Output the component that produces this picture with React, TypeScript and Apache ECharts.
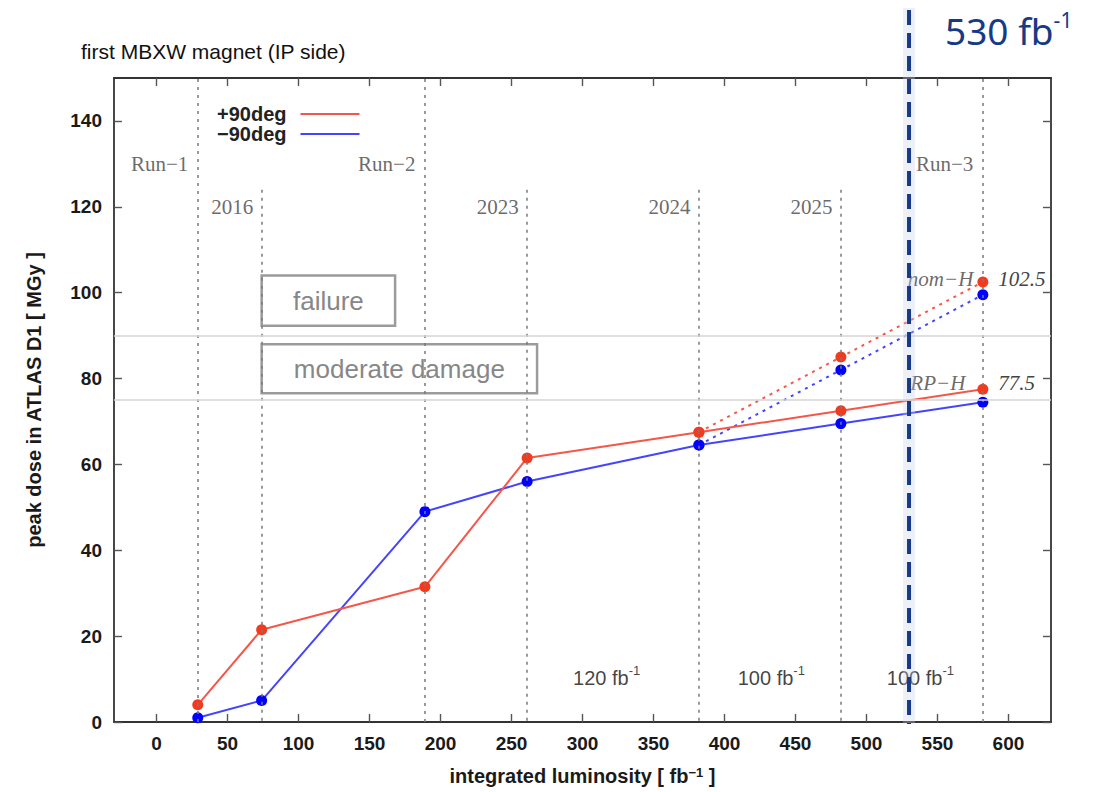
import { useEffect, useRef } from "react";
import * as echarts from "echarts";

const SANS = "Liberation Sans, Arial, Helvetica, sans-serif";
const SERIF = "Liberation Serif, 'Times New Roman', serif";
const HAND = "'Noto Sans', 'Open Sans', sans-serif";

// axis ticks
const xTicks = [0, 50, 100, 150, 200, 250, 300, 350, 400, 450, 500, 550, 600];
const yTicks = [0, 20, 40, 60, 80, 100, 120, 140];

// peak dose vs integrated luminosity
const lumi = [29, 74, 189, 261, 382, 482, 582];
const dosePlus90 = [4, 21.5, 31.5, 61.5, 67.5, 72.5, 77.5];
const doseMinus90 = [1, 5, 49, 56, 64.5, 69.5, 74.5];

// nominal-H projection from 2023 on
const nomLumi = [382, 482, 582];
const nomPlus90 = [67.5, 85, 102.5];
const nomMinus90 = [64.5, 82, 99.5];

// run and year boundaries
const runEdges = [29, 189, 582];
const runNames = ["Run−1", "Run−2", "Run−3"];
const runLabelY = 130;
const yearEdges = [74, 261, 382, 482];
const yearNames = ["2016", "2023", "2024", "2025"];
const yearLabelY = 120;
const yearLineTop = 124;

// damage thresholds and their boxes
const limitLevels = [90, 75];
const boxNames = ["failure", "moderate damage"];
const boxLeft = [74, 74];
const boxRight = [168, 268];
const boxTop = [104, 88];
const boxBottom = [92.3, 76.6];

// yearly luminosity notes
const yearlyLumi = ["120", "100", "100"];
const yearlyLumiAt = [317, 433, 538];
const yearlyLumiY = 10.7;

// luminosity cut-off marker
const cutoffLumi = 530;

const RED_LINE = "#f4574a";
const RED_DOT = "#f03b20";
const BLUE_LINE = "#4444ff";
const BLUE_DOT = "#0000ff";
const FRAME = "#333";

const pairs = (xs: number[], ys: number[]) => xs.map((x, i) => [x, ys[i]]);

const endLabel = (dy: number) => ({
  show: true,
  position: "right" as const,
  distance: 10,
  offset: [0, dy],
  formatter: (p: any) => String(p.value[1]),
  fontFamily: SERIF,
  fontStyle: "italic" as const,
  fontSize: 21,
  color: "#444",
});

const withEndLabel = (xs: number[], ys: number[], dy: number) =>
  xs.map((x, i) =>
    i === xs.length - 1 ? { value: [x, ys[i]], label: endLabel(dy) } : [x, ys[i]]
  );

export default function App() {
  const ref = useRef<HTMLDivElement>(null);

  useEffect(() => {
    document.body.style.margin = "0";
    const el = ref.current;
    if (!el) return;
    const chart = echarts.init(el, null, { renderer: "svg" });

    const serifLabel = (text: string, dist: number) => ({
      show: true,
      position: "left" as const,
      distance: dist,
      formatter: text,
      fontFamily: SERIF,
      fontSize: 21,
      color: "#444",
    });

    const annotations: any[] = [
      ...runEdges.map((x, i) => ({ value: [x, runLabelY], label: serifLabel(runNames[i], 9) })),
      ...yearEdges.map((x, i) => ({ value: [x, yearLabelY], label: serifLabel(yearNames[i], 8) })),
      ...yearlyLumiAt.map((x, i) => ({
        value: [x, yearlyLumiY],
        label: {
          show: true,
          position: "inside",
          fontFamily: "Liberation Sans",
          fontStyle: "normal",
          fontSize: 20,
          color: "#111",
          formatter: `{n|${yearlyLumi[i]} fb}{s|-1}`,
          rich: {
            n: { fontFamily: "Liberation Sans", fontStyle: "normal", fontSize: 20, color: "#111", lineHeight: 24, verticalAlign: "bottom" },
            s: { fontFamily: "Liberation Sans", fontStyle: "normal", fontSize: 13, color: "#111", lineHeight: 13, verticalAlign: "top" },
          },
        },
      })),
      {
        value: [nomLumi[nomLumi.length - 1], nomPlus90[nomPlus90.length - 1]],
        label: { ...serifLabel("nom−H", 9), fontStyle: "italic", offset: [0, -3] },
      },
      {
        value: [lumi[lumi.length - 1], dosePlus90[dosePlus90.length - 1]],
        label: { ...serifLabel("RP−H", 17), fontStyle: "italic", offset: [0, -6] },
      },
    ];

    const tickLabel = {
      fontFamily: SANS,
      fontSize: 19,
      fontWeight: "bold" as const,
      color: "#1a1a1a",
    };

    const axisLine = { show: true, onZero: false, lineStyle: { color: FRAME, width: 1.8 } };

    const xBase = (position: "bottom" | "top") => ({
      type: "value" as const,
      position,
      min: -30,
      max: 630,
      axisLine,
      axisTick: {
        show: true,
        inside: true,
        length: 8,
        customValues: xTicks,
        lineStyle: { color: "#555", width: 1.4 },
      },
      axisLabel: {
        show: position === "bottom",
        customValues: xTicks,
        margin: 12,
        ...tickLabel,
      },
      splitLine: { show: false },
    });

    const yBase = (position: "left" | "right") => ({
      type: "value" as const,
      position,
      min: 0,
      max: 150,
      axisLine,
      axisTick: {
        show: true,
        inside: true,
        length: 8,
        customValues: yTicks,
        lineStyle: { color: "#555", width: 1.4 },
      },
      axisLabel: {
        show: position === "left",
        customValues: yTicks,
        margin: 12,
        ...tickLabel,
      },
      splitLine: { show: false },
    });

    const option: any = {
      animation: false,
      backgroundColor: "#fff",
      title: {
        text: "first MBXW magnet (IP side)",
        left: 76,
        top: 36,
        textStyle: { fontFamily: SANS, fontSize: 21, fontWeight: "normal", color: "#111" },
      },
      legend: {
        show: true,
        orient: "vertical",
        left: 212,
        top: 99,
        align: "right",
        icon: "rect",
        itemWidth: 59,
        itemHeight: 2,
        itemGap: 0,
        selectedMode: false,
        textStyle: {
          fontFamily: SANS,
          fontSize: 20,
          fontWeight: "bold",
          color: "#222",
          padding: [0, 9, 0, 0],
        },
        data: [
          { name: "+90deg", itemStyle: { color: RED_LINE } },
          { name: "−90deg", itemStyle: { color: BLUE_LINE } },
        ],
      },
      grid: { left: 114, right: 63, top: 78, bottom: 70, containLabel: false },
      xAxis: [
        {
          ...xBase("bottom"),
          name: "integrated luminosity [ fb{s|−1} ]",
          nameLocation: "middle",
          nameGap: 44,
          nameTextStyle: {
            fontFamily: SANS,
            fontSize: 20,
            fontWeight: "bold",
            color: "#1a1a1a",
            rich: {
              s: { fontFamily: SANS, fontSize: 13, fontWeight: "bold", color: "#1a1a1a", verticalAlign: "top", lineHeight: 13 },
            },
          },
        },
        xBase("top"),
      ],
      yAxis: [
        {
          ...yBase("left"),
          name: "peak dose in ATLAS D1 [ MGy ]",
          nameLocation: "middle",
          nameGap: 70,
          nameTextStyle: { fontFamily: SANS, fontSize: 20, fontWeight: "bold", color: "#1a1a1a" },
        },
        yBase("right"),
      ],
      series: [
        {
          name: "notes",
          type: "scatter",
          silent: true,
          symbolSize: 1,
          itemStyle: { color: "rgba(0,0,0,0)" },
          data: annotations,
          z: 1,
          markLine: {
            silent: true,
            symbol: ["none", "none"],
            label: { show: false },
            lineStyle: { type: [3, 5], color: "#7a7a7a", width: 1.5 },
            data: [
              ...runEdges.map((x) => ({ xAxis: x })),
              ...yearEdges.map((x) => [{ coord: [x, yearLineTop] }, { coord: [x, 0] }]),
              ...limitLevels.map((y) => ({
                yAxis: y,
                lineStyle: { type: "solid", color: "#d4d4d4", width: 1.5 },
              })),
            ],
          },
          markArea: {
            silent: true,
            itemStyle: { color: "rgba(0,0,0,0)", borderColor: "#9b9b9b", borderWidth: 2.5 },
            label: { show: true, position: "inside", fontFamily: SANS, fontSize: 26, color: "#878787" },
            data: boxNames.map((n, i) => [
              { name: n, coord: [boxLeft[i], boxTop[i]] },
              { coord: [boxRight[i], boxBottom[i]] },
            ]),
          },
        },
        {
          name: "−90deg nom",
          type: "line",
          data: pairs(nomLumi, nomMinus90),
          symbol: "circle",
          symbolSize: 11,
          itemStyle: { color: BLUE_DOT },
          lineStyle: { color: BLUE_LINE, width: 2, type: [3, 5] },
          z: 3,
        },
        {
          name: "+90deg nom",
          type: "line",
          data: withEndLabel(nomLumi, nomPlus90, -3),
          symbol: "circle",
          symbolSize: 11,
          itemStyle: { color: RED_DOT },
          lineStyle: { color: RED_LINE, width: 2, type: [3, 5] },
          z: 3,
        },
        {
          name: "−90deg",
          type: "line",
          data: pairs(lumi, doseMinus90),
          symbol: "circle",
          symbolSize: 11,
          itemStyle: { color: BLUE_DOT },
          lineStyle: { color: BLUE_LINE, width: 2 },
          z: 4,
        },
        {
          name: "+90deg",
          type: "line",
          data: withEndLabel(lumi, dosePlus90, -6),
          symbol: "circle",
          symbolSize: 11,
          itemStyle: { color: RED_DOT },
          lineStyle: { color: RED_LINE, width: 2 },
          z: 4,
        },
      ],
    };

    chart.setOption(option);

    // cut-off marker, reaching above the frame
    const lx = chart.convertToPixel({ xAxisIndex: 0 }, cutoffLumi) as number;
    const yBottom = chart.convertToPixel({ yAxisIndex: 0 }, 0) as number;
    const navy = "#173a86";
    chart.setOption({
      graphic: [
        {
          type: "line",
          silent: true,
          z: 100,
          shape: { x1: lx, y1: 8, x2: lx, y2: yBottom + 2 },
          style: { stroke: "rgba(200,207,232,0.32)", lineWidth: 12 },
        },
        {
          type: "line",
          silent: true,
          z: 101,
          shape: { x1: lx, y1: 10, x2: lx, y2: yBottom + 2 },
          style: { stroke: navy, lineWidth: 4, lineDash: [15, 8] },
        },
        {
          type: "text",
          silent: true,
          z: 101,
          x: lx + 36,
          y: 29,
          style: {
            text: "{m|530 fb}{s|-1}",
            verticalAlign: "middle",
            rich: {
              m: { fontFamily: HAND, fontSize: 37, fill: navy, lineHeight: 40, verticalAlign: "bottom" },
              s: { fontFamily: HAND, fontSize: 21, fill: navy, lineHeight: 21, verticalAlign: "top" },
            },
          },
        },
      ],
    });

    return () => chart.dispose();
  }, []);

  return <div ref={ref} style={{ width: 1114, height: 792 }} />;
}
